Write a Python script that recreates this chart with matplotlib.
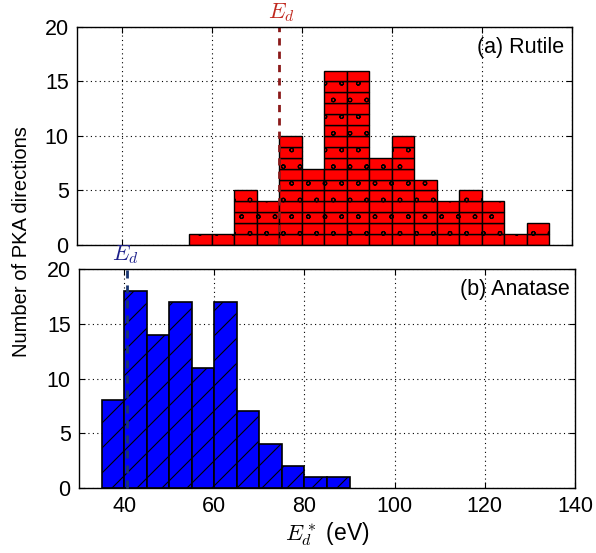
import numpy as np
import matplotlib
matplotlib.use("Agg")
import matplotlib.pyplot as plt
import matplotlib.hatch as mh

plt.rcParams['font.family'] = ['Liberation Sans', 'DejaVu Sans']
plt.rcParams['mathtext.fontset'] = 'cm'
plt.rcParams['hatch.linewidth'] = 0.8


# Sparser / smaller hatch shapes to resemble the original gnuplot patterns
class SparseSmallCircles(mh.Circles):
    size = 0.11

    def __init__(self, hatch, density):
        self.num_rows = hatch.count('o') * density
        super().__init__(hatch, density)


class DenserNorthEast(mh.NorthEastHatch):
    def __init__(self, hatch, density):
        super().__init__(hatch, density)
        n = hatch.count('/') + hatch.count('x') + hatch.count('X')
        self.num_lines = int(n * 8)
        if self.num_lines:
            self.num_vertices = (self.num_lines + 1) * 2
        else:
            self.num_vertices = 0


mh._hatch_types[mh._hatch_types.index(mh.SmallCircles)] = SparseSmallCircles
mh._hatch_types[mh._hatch_types.index(mh.NorthEastHatch)] = DenserNorthEast

# Data
rutile_left = [55, 60, 65, 70, 75, 80, 85, 90, 95, 100, 105, 110, 115, 120, 125, 130]
rutile_counts = [1, 1, 5, 4, 10, 7, 16, 16, 8, 10, 6, 4, 5, 4, 1, 2]
anatase_left = [35, 40, 45, 50, 55, 60, 65, 70, 75, 80, 85]
anatase_counts = [8, 18, 14, 17, 11, 17, 7, 4, 2, 1, 1]
bin_width = 5
ed_rutile = 75
ed_anatase = 40.6
xticks = [40, 60, 80, 100, 120, 140]
yticks = [0, 5, 10, 15, 20]

fig = plt.figure(figsize=(5.96, 5.53), dpi=100)
ax1 = fig.add_axes([0.1292, 0.5570, 0.8305, 0.3942])
ax2 = fig.add_axes([0.1326, 0.1175, 0.8322, 0.3961])

grid_kw = dict(color='black', linestyle=(0, (1, 3)), linewidth=0.8)

for ax in (ax1, ax2):
    ax.set_xlim(30, 140)
    ax.set_ylim(0, 20)
    ax.set_xticks(xticks)
    ax.set_yticks(yticks)
    ax.set_axisbelow(True)
    ax.grid(True, **grid_kw)
    ax.tick_params(direction='in', length=4, width=0.8, labelsize=15.5,
                   top=True, right=True, pad=6)
    for s in ax.spines.values():
        s.set_linewidth(1.0)

# Rutile: unit-stacked boxes
rl = np.array(rutile_left, dtype=float)
rc = np.array(rutile_counts)
for k in range(rc.max()):
    mask = rc > k
    ax1.bar(rl[mask], 1, bottom=k, width=bin_width, align='edge',
            color='#ff0000', edgecolor='black', linewidth=1.0, hatch='o')
ax1.tick_params(labelbottom=False)

# Anatase
ax2.bar(anatase_left, anatase_counts, width=bin_width, align='edge',
        color='#0000ff', edgecolor='black', linewidth=1.2, hatch='/')

# Ed lines
ax1.plot([ed_rutile, ed_rutile], [0, 20], color='#8b1a1a', linestyle=(0, (2.6, 2.2)),
         linewidth=2.0, zorder=1.5, clip_on=False)
ax1.text(ed_rutile + 0.5, 20.25, r'$E_d$', color='#c0281e', fontsize=16,
         ha='center', va='bottom')
ax2.plot([ed_anatase, ed_anatase], [0, 20], color='#1a3570', linestyle=(0, (2.9, 2.5)),
         linewidth=2.0, zorder=3, clip_on=False)
ax2.text(ed_anatase - 0.3, 20.25, r'$E_d$', color='#1c1f8a', fontsize=16,
         ha='center', va='bottom')

ax1.text(0.985, 0.955, '(a) Rutile', transform=ax1.transAxes, ha='right', va='top',
         fontsize=15.5)
ax2.text(0.99, 0.955, '(b) Anatase', transform=ax2.transAxes, ha='right', va='top',
         fontsize=15.5)

ax2.set_xlabel(r'$E_d^*$ (eV)', fontsize=16.5, labelpad=2)
fig.text(22 / 596, 1 - 242 / 553, 'Number of PKA directions', rotation=90,
         ha='center', va='center', fontsize=14.5)

fig.savefig('out.png', dpi=100)
